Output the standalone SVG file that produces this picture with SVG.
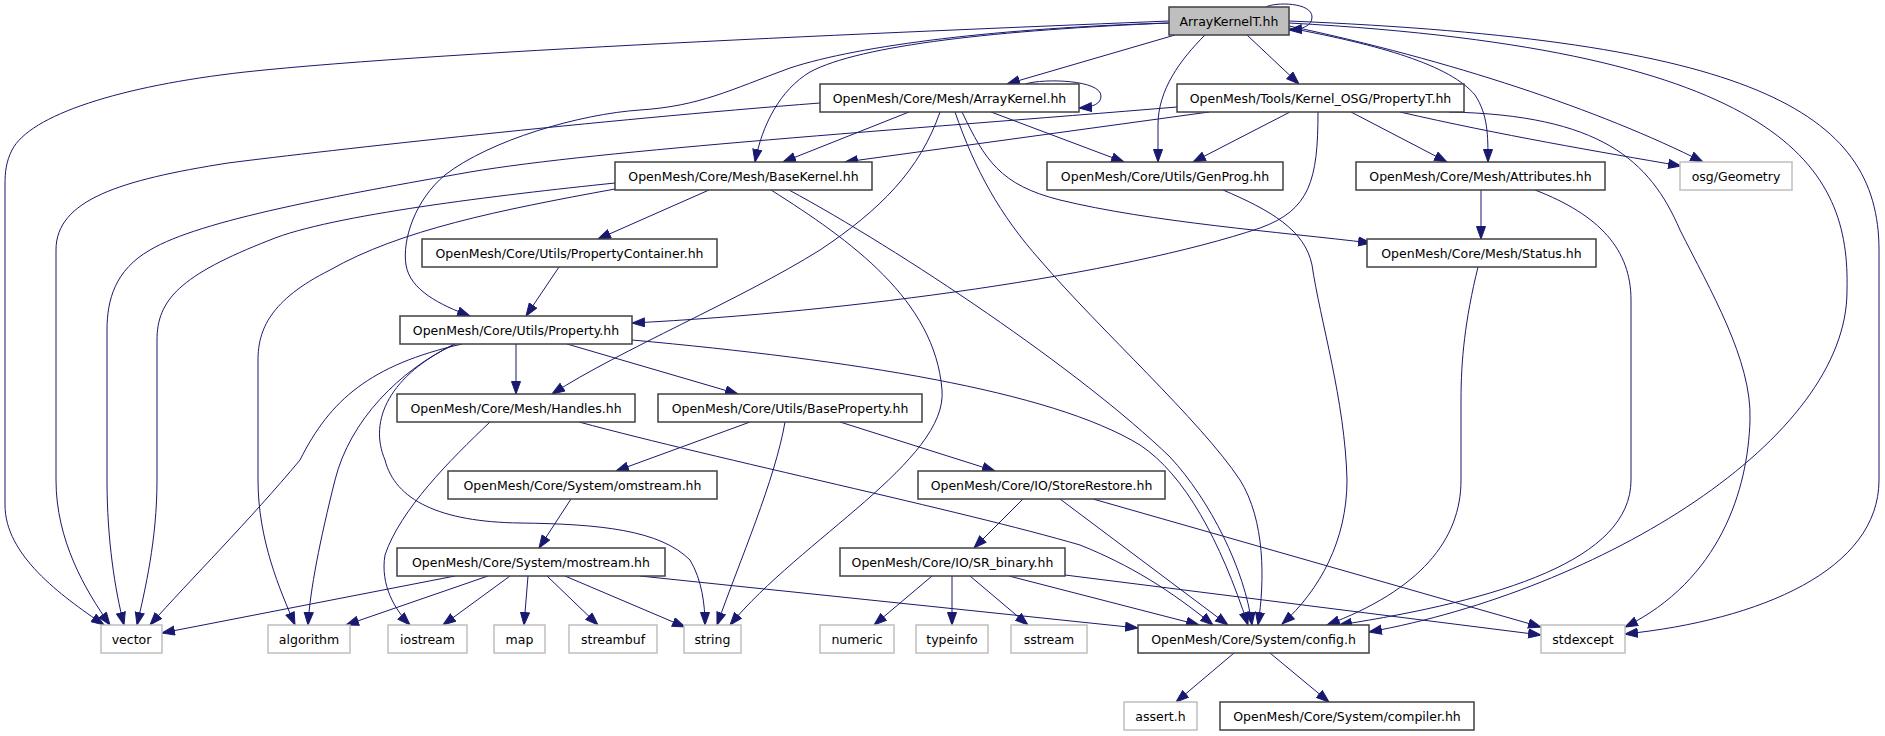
<svg xmlns="http://www.w3.org/2000/svg" width="1885" height="736" viewBox="0 0 1885 736">
<style>
.e{fill:none;stroke:#191970;stroke-width:1;marker-end:url(#ah)}
.n rect{fill:#fff;stroke:#404040;stroke-width:1.5}
.g rect{fill:#fff;stroke:#bfbfbf;stroke-width:1.5}
.h rect{fill:#bfbfbf;stroke:#404040;stroke-width:1.5}
text{font-family:"DejaVu Sans","Liberation Sans",sans-serif;font-size:12.5px;fill:#000;text-anchor:middle}
</style>
<defs>
<marker id="ah" markerUnits="userSpaceOnUse" markerWidth="14" markerHeight="11" refX="13" refY="5" orient="auto">
<path d="M0.5,0.5 L13,5 L0.5,9.5 z" fill="#191970" stroke="#191970" stroke-width="1"/>
</marker>
</defs>
<rect x="0" y="0" width="1885" height="736" fill="#fff"/>
<g id="edges">
<path class="e" d="M1169,21 C950,30 450,50 245,72 C120,86 30,115 12,150 C6,162 5,172 5,185 L5,505 C5,555 60,595 104,625"/>
<path class="e" d="M1169,23 C1000,28 860,45 790,68 C730,90 700,106 640,110 C580,114 490,140 445,175 C415,200 402,240 406,265 C410,290 440,305 470,316"/>
<path class="e" d="M1169,23 C1000,30 860,45 810,72 C780,90 762,125 755,162"/>
<path class="e" d="M1175,35 L1007,84"/>
<path class="e" d="M1205,35 C1180,60 1158,90 1158,125 L1158,162"/>
<path class="e" d="M1247,35 L1299,84"/>
<path class="e" d="M1266,7 C1275,2 1312,2 1312,17 C1312,26 1303,29 1289,30"/>
<path class="e" d="M1289,28 C1380,45 1450,65 1475,95 C1488,115 1488,135 1488,162"/>
<path class="e" d="M1289,26 C1450,60 1600,110 1703,162"/>
<path class="e" d="M1289,23 C1790,50 1850,170 1847,290 C1848,440 1600,590 1369,632"/>
<path class="e" d="M1289,21 C1750,40 1879,110 1879,250 L1879,480 C1879,570 1760,620 1625,634"/>
<path class="e" d="M820,103 C600,120 330,150 228,163 C120,180 56,200 56,250 L56,480 C56,540 85,590 110,625"/>
<path class="e" d="M909,112 L783,162"/>
<path class="e" d="M991,112 L1124,162"/>
<path class="e" d="M940,112 C920,170 880,210 820,250 C740,300 620,350 552,394"/>
<path class="e" d="M955,112 C975,170 1000,215 1040,260 C1100,330 1200,420 1240,480 C1265,520 1265,580 1258,625"/>
<path class="e" d="M962,112 C985,160 1000,185 1060,200 C1150,222 1280,232 1371,243"/>
<path class="e" d="M1025,84 C1045,78 1101,80 1101,96 C1101,104 1093,107 1079,108"/>
<path class="e" d="M1177,107 C900,130 600,150 470,172 C340,195 200,220 150,250 C115,270 107,300 107,330 L107,480 C107,540 115,590 124,625"/>
<path class="e" d="M1209,112 L845,162"/>
<path class="e" d="M1290,112 L1193,162"/>
<path class="e" d="M1351,112 L1447,162"/>
<path class="e" d="M1400,112 C1500,135 1600,152 1681,166"/>
<path class="e" d="M1449,112 C1600,115 1650,160 1680,230 C1710,290 1752,360 1750,420 C1748,490 1720,580 1625,627"/>
<path class="e" d="M1318,112 C1318,180 1310,210 1260,228 C1120,275 850,312 632,323"/>
<path class="e" d="M615,183 C500,195 330,215 270,240 C180,275 157,300 157,340 L157,480 C157,540 145,590 137,625"/>
<path class="e" d="M615,189 C500,210 400,230 330,270 C270,300 258,330 258,360 L258,480 C258,540 280,590 295,625"/>
<path class="e" d="M709,190 L598,239"/>
<path class="e" d="M771,190 C850,240 935,300 942,390 C948,460 800,540 730,625"/>
<path class="e" d="M789,190 C900,250 1080,370 1170,457 C1210,500 1245,570 1252,625"/>
<path class="e" d="M632,340 C850,360 1050,390 1140,445 C1185,475 1220,540 1248,625"/>
<path class="e" d="M567,344 L738,394"/>
<path class="e" d="M516,344 L516,394"/>
<path class="e" d="M462,344 C370,365 330,400 300,460 C250,520 190,580 150,625"/>
<path class="e" d="M455,344 C400,370 350,420 335,480 C320,540 310,590 308,625"/>
<path class="e" d="M455,344 C390,375 368,420 385,460 C395,500 440,522 520,523 C600,524 660,530 690,560 C702,580 705,605 705,625"/>
<path class="e" d="M490,422 C450,460 400,510 385,555 C380,585 395,610 410,625"/>
<path class="e" d="M579,422 C720,460 960,510 1080,545 C1130,565 1170,590 1213,625"/>
<path class="e" d="M750,422 L616,471"/>
<path class="e" d="M785,422 C775,480 740,560 717,625"/>
<path class="e" d="M840,422 L995,471"/>
<path class="e" d="M571,499 L539,548"/>
<path class="e" d="M455,576 L162,633"/>
<path class="e" d="M488,576 L346,625"/>
<path class="e" d="M510,576 L443,625"/>
<path class="e" d="M528,576 L524,625"/>
<path class="e" d="M547,576 L598,625"/>
<path class="e" d="M565,576 L685,627"/>
<path class="e" d="M640,576 L1138,628"/>
<path class="e" d="M1023,499 L974,548"/>
<path class="e" d="M1060,499 L1228,625"/>
<path class="e" d="M1093,499 L1541,627"/>
<path class="e" d="M932,576 L874,625"/>
<path class="e" d="M952,576 L952,625"/>
<path class="e" d="M970,576 L1028,625"/>
<path class="e" d="M1009,576 L1199,625"/>
<path class="e" d="M1065,575 L1541,635"/>
<path class="e" d="M1234,653 L1176,702"/>
<path class="e" d="M1270,653 L1329,702"/>
<path class="e" d="M1481,190 L1481,239"/>
<path class="e" d="M1535,190 C1600,215 1631,250 1631,300 L1631,480 C1631,560 1500,600 1339,625"/>
<path class="e" d="M1478,267 C1465,320 1461,360 1461,400 L1461,480 C1461,540 1420,590 1327,625"/>
<path class="e" d="M1223,190 C1270,210 1305,230 1312,265 C1320,320 1345,400 1347,480 C1347,540 1320,590 1282,624"/>
<path class="e" d="M559,267 L526,316"/>
</g>
<g id="n_arraykernelt" class="h"><rect x="1169" y="7" width="120" height="28"/><text x="1229" y="25.5">ArrayKernelT.hh</text></g>
<g id="n_arraykernel" class="n"><rect x="820" y="84" width="259" height="28"/><text x="949.5" y="102.5">OpenMesh/Core/Mesh/ArrayKernel.hh</text></g>
<g id="n_propertyt" class="n"><rect x="1177" y="84" width="287" height="28"/><text x="1320.5" y="102.5">OpenMesh/Tools/Kernel_OSG/PropertyT.hh</text></g>
<g id="n_basekernel" class="n"><rect x="615" y="162" width="257" height="28"/><text x="743.5" y="180.5">OpenMesh/Core/Mesh/BaseKernel.hh</text></g>
<g id="n_genprog" class="n"><rect x="1047" y="162" width="236" height="28"/><text x="1165" y="180.5">OpenMesh/Core/Utils/GenProg.hh</text></g>
<g id="n_attributes" class="n"><rect x="1356" y="162" width="249" height="28"/><text x="1480.5" y="180.5">OpenMesh/Core/Mesh/Attributes.hh</text></g>
<g id="n_osggeometry" class="g"><rect x="1680" y="162" width="112" height="28"/><text x="1736" y="180.5">osg/Geometry</text></g>
<g id="n_propertycontainer" class="n"><rect x="422" y="239" width="295" height="28"/><text x="569.5" y="257.5">OpenMesh/Core/Utils/PropertyContainer.hh</text></g>
<g id="n_status" class="n"><rect x="1367" y="239" width="229" height="28"/><text x="1481.5" y="257.5">OpenMesh/Core/Mesh/Status.hh</text></g>
<g id="n_property" class="n"><rect x="400" y="316" width="232" height="28"/><text x="516" y="334.5">OpenMesh/Core/Utils/Property.hh</text></g>
<g id="n_handles" class="n"><rect x="397" y="394" width="238" height="28"/><text x="516" y="412.5">OpenMesh/Core/Mesh/Handles.hh</text></g>
<g id="n_baseproperty" class="n"><rect x="658" y="394" width="264" height="28"/><text x="790" y="412.5">OpenMesh/Core/Utils/BaseProperty.hh</text></g>
<g id="n_omstream" class="n"><rect x="448" y="471" width="269" height="28"/><text x="582.5" y="489.5">OpenMesh/Core/System/omstream.hh</text></g>
<g id="n_storerestore" class="n"><rect x="918" y="471" width="247" height="28"/><text x="1041.5" y="489.5">OpenMesh/Core/IO/StoreRestore.hh</text></g>
<g id="n_mostream" class="n"><rect x="397" y="548" width="268" height="28"/><text x="531" y="566.5">OpenMesh/Core/System/mostream.hh</text></g>
<g id="n_srbinary" class="n"><rect x="840" y="548" width="225" height="28"/><text x="952.5" y="566.5">OpenMesh/Core/IO/SR_binary.hh</text></g>
<g id="n_vector" class="g"><rect x="101" y="625" width="61" height="28"/><text x="131.5" y="643.5">vector</text></g>
<g id="n_algorithm" class="g"><rect x="268" y="625" width="82" height="28"/><text x="309" y="643.5">algorithm</text></g>
<g id="n_iostream" class="g"><rect x="388" y="625" width="79" height="28"/><text x="427.5" y="643.5">iostream</text></g>
<g id="n_map" class="g"><rect x="494" y="625" width="51" height="28"/><text x="519.5" y="643.5">map</text></g>
<g id="n_streambuf" class="g"><rect x="569" y="625" width="88" height="28"/><text x="613" y="643.5">streambuf</text></g>
<g id="n_string" class="g"><rect x="684" y="625" width="57" height="28"/><text x="712.5" y="643.5">string</text></g>
<g id="n_numeric" class="g"><rect x="820" y="625" width="74" height="28"/><text x="857" y="643.5">numeric</text></g>
<g id="n_typeinfo" class="g"><rect x="916" y="625" width="72" height="28"/><text x="952" y="643.5">typeinfo</text></g>
<g id="n_sstream" class="g"><rect x="1011" y="625" width="76" height="28"/><text x="1049" y="643.5">sstream</text></g>
<g id="n_config" class="n"><rect x="1138" y="625" width="231" height="28"/><text x="1253.5" y="643.5">OpenMesh/Core/System/config.h</text></g>
<g id="n_stdexcept" class="g"><rect x="1541" y="625" width="84" height="28"/><text x="1583" y="643.5">stdexcept</text></g>
<g id="n_assert" class="g"><rect x="1124" y="702" width="73" height="28"/><text x="1160.5" y="720.5">assert.h</text></g>
<g id="n_compiler" class="n"><rect x="1220" y="702" width="254" height="28"/><text x="1347" y="720.5">OpenMesh/Core/System/compiler.hh</text></g>
</svg>
